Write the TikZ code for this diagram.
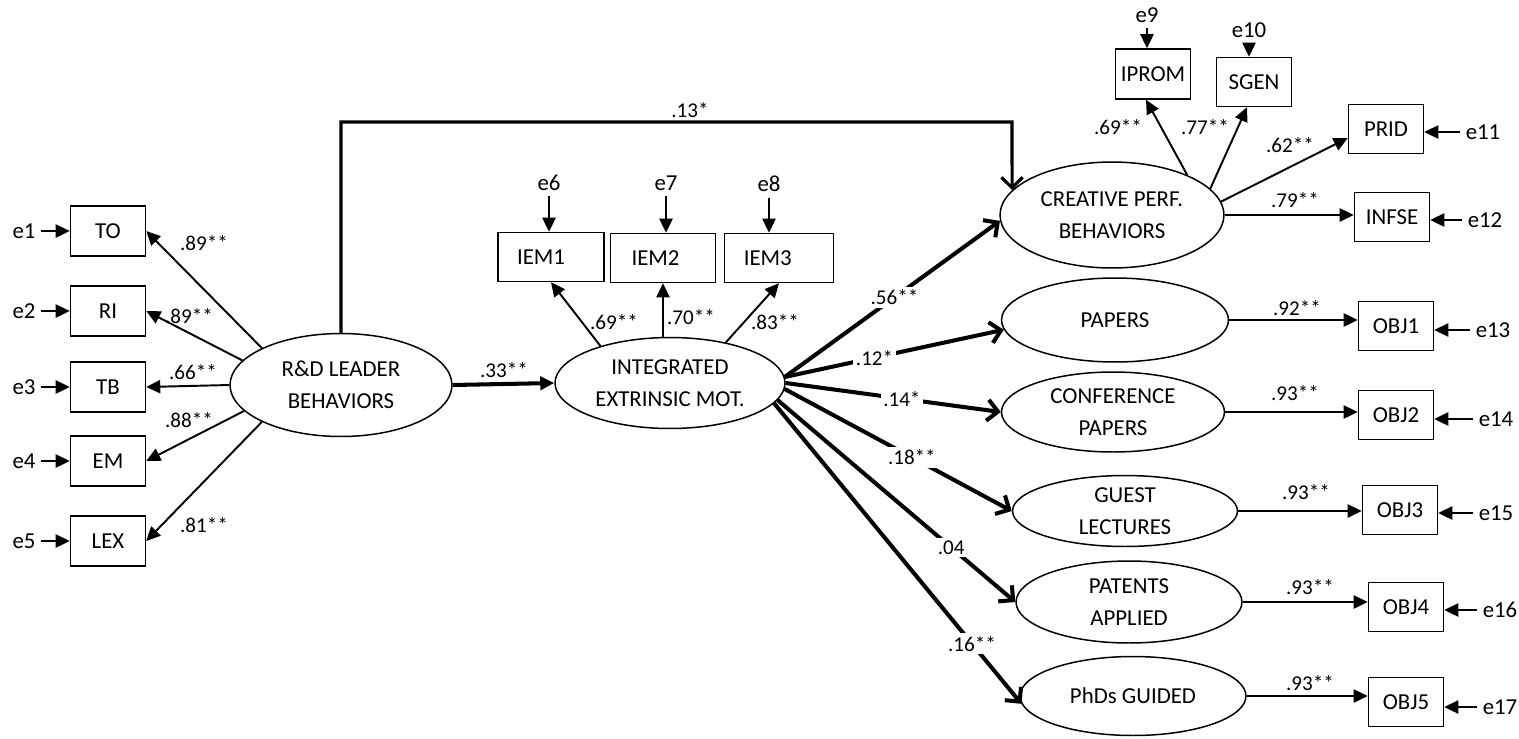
\documentclass[tikz,border=0pt]{standalone}
\usepackage{fontspec}
\setmainfont{Carlito}
\usetikzlibrary{shapes.geometric,arrows.meta}

\tikzset{
  obs/.style={draw, line width=0.85pt, minimum width=1.5cm, minimum height=1cm, inner sep=0pt, font=\fontsize{13}{15}\selectfont},
  lat/.style={draw, ellipse, line width=0.85pt, inner sep=0pt, align=center, font=\fontsize{13}{18}\selectfont},
  err/.style={inner sep=3pt, font=\fontsize{13}{15}\selectfont},
  coef/.style={inner sep=1.5pt, font=\fontsize{12}{14}\selectfont},
  meas/.style={line width=1.1pt, -{Triangle[length=8pt,width=7.5pt]}},
  struct/.style={line width=2.3pt, -{Straight Barb[length=6pt,width=12pt]}},
}

\begin{document}
\begin{tikzpicture}[x=0.02cm, y=-0.02cm]
    \useasboundingbox (0,0) rectangle (1519,738);

    % R&D leader behaviors
    \node[lat, minimum width=4.44cm, minimum height=2.06cm] (RD) at (341,385) {R\&D LEADER\\BEHAVIORS};
    \node[obs] (TO) at (108,231) {TO};
    \node[obs] (RI) at (108,311) {RI};
    \node[obs] (TB) at (108,387) {TB};
    \node[obs] (EM) at (108,461) {EM};
    \node[obs] (LEX) at (108,541) {LEX};
    \node[err] (e1) at (24,231) {e1};
    \node[err] (e2) at (24,311) {e2};
    \node[err] (e3) at (24,387) {e3};
    \node[err] (e4) at (24,461) {e4};
    \node[err] (e5) at (24,541) {e5};
    \draw[meas] (e1.east) -- (e1.east -| TO.west);
    \draw[meas] (e2.east) -- (e2.east -| RI.west);
    \draw[meas] (e3.east) -- (e3.east -| TB.west);
    \draw[meas] (e4.east) -- (e4.east -| EM.west);
    \draw[meas] (e5.east) -- (e5.east -| LEX.west);
    \draw[meas] (RD.155) -- (TO.east);
    \draw[meas] (RD.166) -- (RI.east);
    \draw[meas] (RD.west) -- (TB.east);
    \draw[meas] (RD.195) -- (EM.east);
    \draw[meas] (RD.205) -- (LEX.east);
    \node[coef] (lTO) at (204,243) {.89**};
    \node[coef] (lRI) at (189,316) {.89**};
    \node[coef] (lTB) at (193,372) {.66**};
    \node[coef] (lEM) at (189,420) {.88**};
    \node[coef] (lLEX) at (204,525) {.81**};

    % Integrated extrinsic motivation
    \node[lat, minimum width=4.6cm, minimum height=1.82cm] (IEM) at (670,383) {INTEGRATED\\EXTRINSIC MOT.};
    \node[obs, minimum width=2.12cm, minimum height=0.98cm] (IEM1) at (551,257) {IEM1\kern0.4cm};
    \node[obs, minimum width=2.1cm, minimum height=0.98cm] (IEM2) at (663,258) {IEM2\kern0.3cm};
    \node[obs, minimum width=2.18cm, minimum height=0.98cm] (IEM3) at (779,258) {IEM3\kern0.45cm};
    \node[err] (e6) at (549,183) {e6};
    \node[err] (e7) at (666,183) {e7};
    \node[err] (e8) at (769,184) {e8};
    \draw[meas] (e6.south) -- (e6.south |- IEM1.north);
    \draw[meas] (e7.south) -- (e7.south |- IEM2.north);
    \draw[meas] (e8.south) -- (e8.south |- IEM3.north);
    \draw[meas] (IEM.152) -- (IEM1.south);
    \draw[meas] (IEM2.south |- IEM.north) -- (IEM2.south);
    \draw[meas] (IEM.36) -- (IEM3.south);
    \node[coef] (lIEM1) at (614,322) {.69**};
    \node[coef] (lIEM2) at (691,317) {.70**};
    \node[coef] (lIEM3) at (775,322) {.83**};
    \draw[line width=2.3pt, -{Triangle[length=8pt,width=7.5pt]}] (RD.east) -- (IEM.west);
    \node[coef] (lRD) at (504,370) {.33**};

    % Creative performance behaviors
    \node[lat, minimum width=4.48cm, minimum height=2.12cm] (CP) at (1112,215) {CREATIVE PERF.\\BEHAVIORS};
    \node[obs] (IPROM) at (1153,74) {IPROM};
    \node[obs, minimum height=0.98cm] (SGEN) at (1254,82) {SGEN};
    \node[obs, minimum height=0.98cm] (PRID) at (1386,129) {PRID};
    \node[obs, minimum height=0.98cm] (INFSE) at (1392,217) {INFSE};
    \node[err] (e9) at (1147,15) {e9};
    \node[err] (e10) at (1249,30) {e10};
    \node[err] (e11) at (1483,132) {e11};
    \node[err] (e12) at (1485,220) {e12};
    \draw[meas] (e9.south) -- (e9.south |- IPROM.north);
    \draw[meas] (e10.south) -- (e10.south |- SGEN.north);
    \draw[meas] (e11.west) -- (e11.west -| PRID.east);
    \draw[meas] (e12.west) -- (e12.west -| INFSE.east);
    \draw[meas] (CP.28) -- ([xshift=-0.14cm]IPROM.south);
    \draw[meas] (CP.15) -- ([xshift=-0.14cm]SGEN.south);
    \draw[meas] (CP.7) -- ([yshift=-0.18cm]PRID.west);
    \draw[meas] (CP.east) -- (CP.east -| INFSE.west);
    \node[coef] (lIPROM) at (1118,127) {.69**};
    \node[coef] (lSGEN) at (1205,127) {.77**};
    \node[coef] (lPRID) at (1290,145) {.62**};
    \node[coef] (lINFSE) at (1295,200) {.79**};

    % Objective outcomes
    \node[lat, minimum width=4.54cm, minimum height=1.68cm] (PA) at (1115,320) {PAPERS};
    \node[lat, minimum width=4.46cm, minimum height=1.6cm] (CO) at (1113,412) {CONFERENCE\\PAPERS};
    \node[lat, minimum width=4.5cm, minimum height=1.42cm] (GU) at (1125,511) {GUEST\\LECTURES};
    \node[lat, minimum width=4.52cm, minimum height=1.64cm] (PT) at (1129,602) {PATENTS\\APPLIED};
    \node[lat, minimum width=4.52cm, minimum height=1.58cm] (PH) at (1133,696) {PhDs GUIDED};
    \node[obs, minimum height=0.98cm] (OBJ1) at (1396,326) {OBJ1};
    \node[obs, minimum height=0.98cm] (OBJ2) at (1396,415) {OBJ2};
    \node[obs, minimum height=0.98cm] (OBJ3) at (1400,510) {OBJ3};
    \node[obs, minimum height=0.98cm] (OBJ4) at (1406,607) {OBJ4};
    \node[obs, minimum height=0.98cm] (OBJ5) at (1406,702) {OBJ5};
    \node[err] (e13) at (1493,330) {e13};
    \node[err] (e14) at (1496,419) {e14};
    \node[err] (e15) at (1496,513) {e15};
    \node[err] (e16) at (1500,610) {e16};
    \node[err] (e17) at (1500,707) {e17};
    \draw[meas] (e13.west) -- (e13.west -| OBJ1.east);
    \draw[meas] (e14.west) -- (e14.west -| OBJ2.east);
    \draw[meas] (e15.west) -- (e15.west -| OBJ3.east);
    \draw[meas] (e16.west) -- (e16.west -| OBJ4.east);
    \draw[meas] (e17.west) -- (e17.west -| OBJ5.east);
    \draw[meas] (PA.east) -- (PA.east -| OBJ1.west);
    \draw[meas] (CO.east) -- (CO.east -| OBJ2.west);
    \draw[meas] (GU.east) -- (GU.east -| OBJ3.west);
    \draw[meas] (PT.east) -- (PT.east -| OBJ4.west);
    \draw[meas] (PH.east) -- (PH.east -| OBJ5.west);
    \node[coef] (lOBJ1) at (1297,308) {.92**};
    \node[coef] (lOBJ2) at (1295,393) {.93**};
    \node[coef] (lOBJ3) at (1306,492) {.93**};
    \node[coef] (lOBJ4) at (1310,587) {.93**};
    \node[coef] (lOBJ5) at (1310,683) {.93**};

    % Structural paths
    \coordinate (bend) at (1012,122);
    \draw[line width=1.8pt, -{Straight Barb[length=6pt,width=12pt]}] (RD.north) |- node[coef, above, pos=0.76] (lRDCP) {.13*} (bend) -- (CP.166);
    \draw[struct] (IEM.3) -- node[coef, fill=white, pos=0.51] (lCP) {.56**} (CP.183);
    \draw[struct] (IEM.3) -- node[coef, fill=white, pos=0.41] (lPA) {.12*} (PA.185);
    \draw[struct] (IEM.east) -- node[coef, fill=white, pos=0.54] (lCO) {.14*} (CO.west);
    \draw[struct] (IEM.-3) -- node[coef, fill=white, pos=0.56] (lGU) {.18**} (GU.west);
    \draw[struct] (IEM.-9) -- node[coef, fill=white, pos=0.73] (lPT) {.04} (PT.west);
    \draw[struct] (IEM.-11) -- node[coef, fill=white, pos=0.80] (lPH) {.16**} (PH.184);

\end{tikzpicture}
\end{document}
